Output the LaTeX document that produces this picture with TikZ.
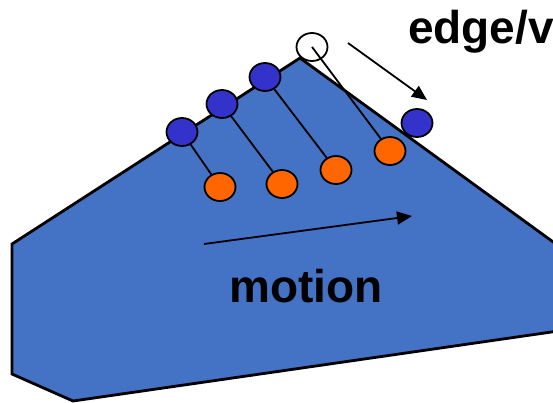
\documentclass[tikz,border=0pt]{standalone}
\usepackage{fontspec}
\setmainfont{Liberation Sans}
\usetikzlibrary{shapes.geometric,arrows.meta}
\definecolor{shapeblue}{HTML}{4472C4}
\definecolor{dotblue}{HTML}{3333CC}
\definecolor{dotorange}{HTML}{FF6600}
\begin{document}
\begin{tikzpicture}[x=1pt,y=-1pt,
  dot/.style={ellipse, draw=black, line width=1.8pt, minimum width=31pt, minimum height=28pt, inner sep=0pt},
  bdot/.style={dot, fill=dotblue},
  odot/.style={dot, fill=dotorange},
  wdot/.style={dot, fill=white},
  link/.style={line width=1.8pt},
  arr/.style={line width=1.8pt, -{Triangle[length=15pt,width=13pt]}},
  lbl/.style={font=\bfseries\fontsize{46}{46}\selectfont, inner sep=0pt, anchor=base west}]
\useasboundingbox (0,0) rectangle (553,402);
\clip (0,0) rectangle (553,402);
\draw[fill=shapeblue, line width=2.8pt, line join=miter]
  (300,58) -- (600,276) -- (600,325) -- (73,401) -- (12,374) -- (12,244) -- cycle;
\node[bdot] (b1) at (182,132) {};
\node[bdot] (b2) at (222,104) {};
\node[bdot] (b3) at (265,77) {};
\node[wdot] (w) at (312,47) {};
\node[bdot] (b4) at (417,123) {};
\node[odot] (o1) at (220,187) {};
\node[odot] (o2) at (282,184) {};
\node[odot] (o3) at (336,170) {};
\node[odot] (o4) at (390,151) {};
\draw[link] (b1) -- (o1);
\draw[link] (b2) -- (o2);
\draw[link] (b3) -- (o3);
\draw[link] (w.center) -- (o4);
\coordinate (e1) at (348,43);
\coordinate (e2) at (427,100);
\draw[arr] (e1) -- (e2);
\coordinate (m1) at (204,244);
\coordinate (m2) at (412,216);
\draw[arr] (m1) -- (m2);
\node[lbl] (t1) at (408,43) {edge/v};
\node[lbl] (t2) at (229,302) {motion};
\end{tikzpicture}
\end{document}
